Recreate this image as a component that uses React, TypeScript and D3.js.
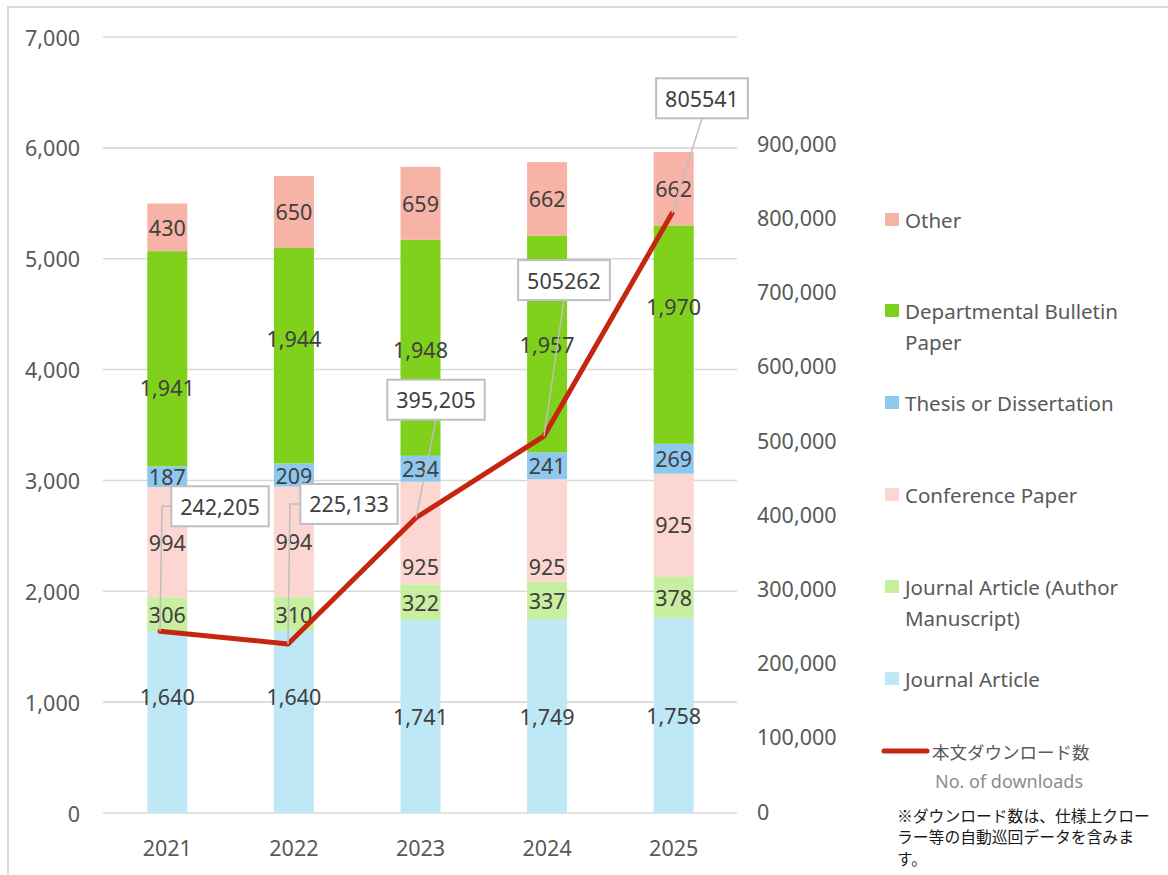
import React from "react";
import * as d3 from "d3";

const years = ["2021", "2022", "2023", "2024", "2025"];
const seriesNames = [
  "Journal Article",
  "Journal Article (Author Manuscript)",
  "Conference Paper",
  "Thesis or Dissertation",
  "Departmental Bulletin Paper",
  "Other",
];
const journalArticle = [1640, 1640, 1741, 1749, 1758];
const journalArticleAM = [306, 310, 322, 337, 378];
const conferencePaper = [994, 994, 925, 925, 925];
const thesis = [187, 209, 234, 241, 269];
const bulletin = [1941, 1944, 1948, 1957, 1970];
const other = [430, 650, 659, 662, 662];
const downloads = [242205, 225133, 395205, 505262, 805541];
const downloadLabels = ["242,205", "225,133", "395,205", "505262", "805541"];
const leftTicks = [0, 1000, 2000, 3000, 4000, 5000, 6000, 7000];
const rightTicks = [0, 100000, 200000, 300000, 400000, 500000, 600000, 700000, 800000, 900000];

const seriesValues = [journalArticle, journalArticleAM, conferencePaper, thesis, bulletin, other];
const colors = ["#BFE8F7", "#C8EFA0", "#FCD6D0", "#8DC8F1", "#7FD11B", "#F7B3A6"];

// manual label nudges (px) for moved data labels: [series][year]
const labelNudge = [
  [-26, -26, 0, 0, 0],
  [0, 0, 0, 0, 0],
  [0, 0, 33, 36, 0],
  [0, 0, 0, 0, 0],
  [29, -17, 2, 0, -28],
  [0, 0, 0, 0, 0],
];
// callout box offsets from the line point (px), and leader style
const calloutOffset = [
  { dx: 60, dy: -125, elbow: true },
  { dx: 61, dy: -140, elbow: true },
  { dx: 20, dy: -118, elbow: false },
  { dx: 20, dy: -156, elbow: false },
  { dx: 30, dy: -115, elbow: false },
];

const legendItems = [
  { name: "Other", idx: 5, lines: ["Other"], y: 220 },
  { name: "Departmental Bulletin Paper", idx: 4, lines: ["Departmental Bulletin", "Paper"], y: 311 },
  { name: "Thesis or Dissertation", idx: 3, lines: ["Thesis or Dissertation"], y: 403 },
  { name: "Conference Paper", idx: 2, lines: ["Conference Paper"], y: 495 },
  { name: "Journal Article (Author Manuscript)", idx: 1, lines: ["Journal Article (Author", "Manuscript)"], y: 587 },
  { name: "Journal Article", idx: 0, lines: ["Journal Article"], y: 679 },
];

const FONT = "'Noto Sans', 'Open Sans', sans-serif";
const JFONT = "'Noto Sans CJK JP', 'Noto Sans', sans-serif";
const FS = 21.5;

function textW(s: string, size: number) {
  let w = 0;
  for (const c of s) w += c === "," ? 0.26 : 0.572;
  return w * size;
}

export default function App() {
  const W = 1168, H = 875;
  const x = d3.scaleBand<string>().domain(years).range([104, 737]).paddingInner(0.684).paddingOuter(0.342);
  const xLine = d3.scalePoint<string>().domain(years).range([160, 672]);
  const yL = d3.scaleLinear().domain([0, 7000]).range([813, 37]);
  const yR = d3.scaleLinear().domain([0, 1000000]).range([811, 69]);

  const stackData = years.map((yr, i) => {
    const o: any = { year: yr };
    seriesNames.forEach((s, k) => (o[s] = seriesValues[k][i]));
    return o;
  });
  const stacked = d3.stack<any>().keys(seriesNames)(stackData);

  const linePts = years.map((yr, i) => [xLine(yr)!, yR(downloads[i])] as [number, number]);
  const lineGen = d3.line();

  const fmt = d3.format(",");

  return (
    <svg width={W} height={H} style={{ position: "absolute", left: 0, top: 0, background: "#fff" }}>
      {/* outer border */}
      <path d={`M8,${H} V7 H${W}`} fill="none" stroke="#D9D9D9" strokeWidth={2} />
      {/* gridlines */}
      {leftTicks.map((t) => (
        <line key={t} x1={103} x2={737} y1={yL(t)} y2={yL(t)} stroke="#D9D9D9" strokeWidth={1.6} />
      ))}
      {/* left axis labels */}
      {leftTicks.map((t) => (
        <text key={t} x={80} y={yL(t)} textAnchor="end" dominantBaseline="central" fontFamily={FONT} fontSize={FS} fill="#595959">
          {fmt(t)}
        </text>
      ))}
      {/* right axis labels */}
      {rightTicks.map((t) => (
        <text key={t} x={757} y={yR(t)} textAnchor="start" dominantBaseline="central" fontFamily={FONT} fontSize={FS} fill="#595959">
          {fmt(t)}
        </text>
      ))}
      {/* x labels */}
      {years.map((yr) => (
        <text key={yr} x={x(yr)! + x.bandwidth() / 2} y={847} textAnchor="middle" dominantBaseline="central" fontFamily={FONT} fontSize={FS} fill="#595959">
          {yr}
        </text>
      ))}
      {/* bars */}
      {stacked.map((layer, k) => (
        <g key={layer.key}>
          {layer.map((d, i) => (
            <rect key={i} x={x(years[i])} width={x.bandwidth()} y={yL(d[1])} height={yL(d[0]) - yL(d[1])} fill={colors[k]} />
          ))}
        </g>
      ))}
      {/* bar labels */}
      {stacked.map((layer, k) => (
        <g key={layer.key + "l"}>
          {layer.map((d, i) => (
            <text
              key={i}
              x={x(years[i])! + x.bandwidth() / 2}
              y={yL((d[0] + d[1]) / 2) + labelNudge[k][i]}
              textAnchor="middle"
              dominantBaseline="central"
              fontFamily={FONT}
              fontSize={FS}
              fill="#404040"
            >
              {fmt(seriesValues[k][i])}
            </text>
          ))}
        </g>
      ))}
      {/* line */}
      <path d={lineGen(linePts)!} fill="none" stroke="#C5260F" strokeWidth={5} strokeLinejoin="round" strokeLinecap="round" />
      {/* callouts */}
      {linePts.map(([px, py], i) => {
        const o = calloutOffset[i];
        const label = downloadLabels[i];
        const bw = textW(label, FS) + 18;
        const bh = 40;
        const cx = px + o.dx, cy = py + o.dy;
        const left = cx - bw / 2;
        const lead = o.elbow
          ? `M${px},${py} L${px + 2},${cy} L${left},${cy}`
          : `M${px},${py} L${cx},${cy + bh / 2}`;
        return (
          <g key={i}>
            <path d={lead} fill="none" stroke="#BFBFBF" strokeWidth={1.5} />
            <rect x={left} y={cy - bh / 2} width={bw} height={bh} fill="#fff" stroke="#BFBFBF" strokeWidth={2} />
            <text x={cx} y={cy} textAnchor="middle" dominantBaseline="central" fontFamily={FONT} fontSize={FS} fill="#404040">
              {label}
            </text>
          </g>
        );
      })}
      {/* legend */}
      {legendItems.map((it) => (
        <g key={it.name}>
          <rect x={885} y={it.y - 7} width={14} height={13} fill={colors[it.idx]} />
          {it.lines.map((ln, j) => (
            <text key={j} x={905} y={it.y + j * 31} dominantBaseline="central" fontFamily={FONT} fontSize={20.5} fill="#595959">
              {ln}
            </text>
          ))}
        </g>
      ))}
      <line x1={884} x2={927} y1={751} y2={751} stroke="#C5260F" strokeWidth={5} strokeLinecap="round" />
      <text x={932} y={751} dominantBaseline="central" fontFamily={JFONT} fontSize={17.5} fill="#595959">
        本文ダウンロード数
      </text>
      <text x={935} y={781} dominantBaseline="central" fontFamily={FONT} fontSize={18} fill="#8C8C8C">
        No. of downloads
      </text>
      {["※ダウンロード数は、仕様上クロー", "ラー等の自動巡回データを含みま", "す。"].map((s, j) => (
        <text key={j} x={897} y={815 + j * 21.5} dominantBaseline="central" fontFamily={JFONT} fontSize={15.8} fill="#1A1A1A">
          {s}
        </text>
      ))}
    </svg>
  );
}
